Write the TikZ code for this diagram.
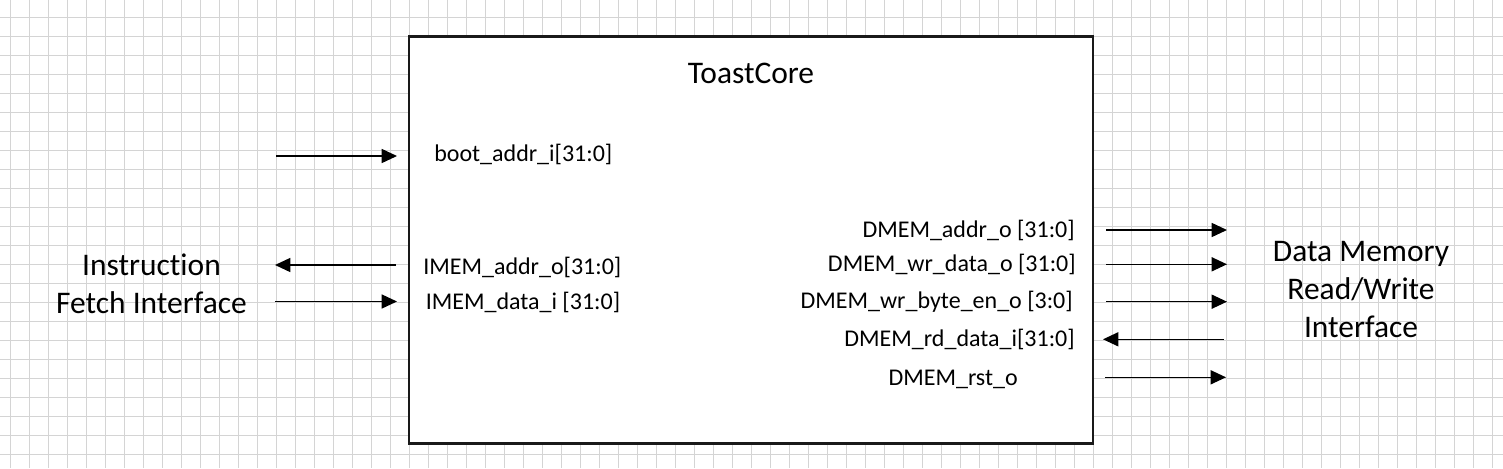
\documentclass[tikz,border=0pt]{standalone}
\usepackage{fontspec}
\setmainfont{Carlito}[Ligatures={NoCommon}]
\usetikzlibrary{arrows.meta}
\definecolor{gridc}{HTML}{D4D4D4}
\begin{document}
\begin{tikzpicture}[x=0.75pt,y=-0.75pt,
  sig/.style={line width=1.15pt, -{Triangle[length=11.5pt,width=10.5pt]}},
  port/.style={font=\fontsize{18}{21.6}\selectfont, inner sep=0pt},
  big/.style={font=\fontsize{23.6}{28.5}\selectfont, align=center, inner sep=0pt},
  gridline/.style={draw=gridc, line width=0.75pt}
]
\useasboundingbox (0,0) rectangle (1503,468);
\fill[white] (0,0) rectangle (1503,468);
\foreach \i in {0,...,78} \draw[gridline] ({10+19.01*\i},0) -- ({10+19.01*\i},468);
\foreach \j in {0,...,23} \draw[gridline] (0,{17.3+19.01*\j}) -- (1503,{17.3+19.01*\j});

% core box
\node (core) [draw=black!90, fill=white, line width=1.8pt, minimum width=513pt, minimum height=305.25pt, inner sep=0pt] at (751,240) {};
\node (title) [big, anchor=base] at (751,83) {ToastCore};

% left port labels
\node (boot) [port, anchor=base west] at (434,161) {boot\_addr\_i[31:0]};
\node (imaddr) [port, anchor=base west] at (423,274) {IMEM\_addr\_o[31:0]};
\node (imdata) [port, anchor=base west] at (425.5,309) {IMEM\_data\_i [31:0]};

% right port labels
\node (dmaddr) [port, anchor=base east] at (1075,237) {DMEM\_addr\_o [31:0]};
\node (dmwr) [port, anchor=base east] at (1076,271.5) {DMEM\_wr\_data\_o [31:0]};
\node (dmbe) [port, anchor=base east] at (1073,308.5) {DMEM\_wr\_byte\_en\_o [3:0]};
\node (dmrd) [port, anchor=base east] at (1075,346.5) {DMEM\_rd\_data\_i[31:0]};
\node (dmrst) [port, anchor=base east] at (1018,385) {DMEM\_rst\_o};

% interface labels (base = last line)
\node (ifetch) [big, anchor=base] at (151.5,313.3) {Instruction\\Fetch Interface};
\node (dmemif) [big, anchor=base] at (1361,337.3) {Data Memory\\Read/Write\\Interface};

% arrow end points
\coordinate (bootA) at (276,156);   \coordinate (bootB) at (397,156);
\coordinate (imaA) at (396,265);    \coordinate (imaB) at (275,265);
\coordinate (imdA) at (275,301.5);  \coordinate (imdB) at (397,301.5);
\coordinate (daA) at (1106,230);    \coordinate (daB) at (1227,230);
\coordinate (dwA) at (1106,264.3);  \coordinate (dwB) at (1227,264.3);
\coordinate (dbA) at (1106,301.7);  \coordinate (dbB) at (1227,301.7);
\coordinate (drA) at (1223.5,339.3);\coordinate (drB) at (1103,339.3);
\coordinate (dsA) at (1105,377.3);  \coordinate (dsB) at (1226,377.3);

\draw[sig] (bootA) -- (bootB);
\draw[sig] (imaA) -- (imaB);
\draw[sig] (imdA) -- (imdB);
\draw[sig] (daA) -- (daB);
\draw[sig] (dwA) -- (dwB);
\draw[sig] (dbA) -- (dbB);
\draw[sig] (drA) -- (drB);
\draw[sig] (dsA) -- (dsB);
\end{tikzpicture}
\end{document}
